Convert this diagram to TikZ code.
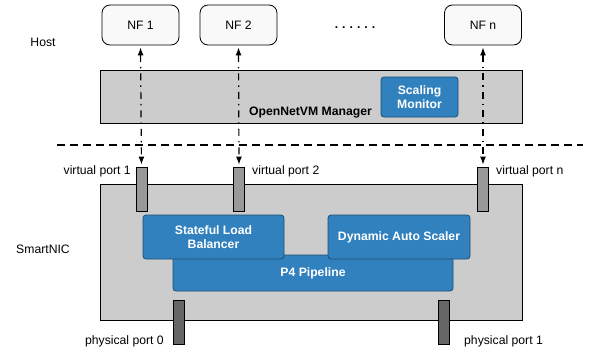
\documentclass[tikz,border=0pt]{standalone}
\usepackage{fontspec}
\setmainfont{Liberation Sans}
\usetikzlibrary{arrows.meta}
\definecolor{boxgray}{HTML}{CCCCCC}
\definecolor{nfblue}{HTML}{3181BE}
\definecolor{nfblueedge}{HTML}{1E4E72}
\definecolor{vport}{HTML}{999999}
\definecolor{pport}{HTML}{666666}
\definecolor{nffill}{HTML}{F9F9F9}
\tikzset{
  txt/.style={font=\fontsize{12.2}{14}\selectfont, inner sep=0pt},
  nfbox/.style={draw=black, fill=nffill, rounded corners=8pt, line width=0.8pt,
    minimum width=77pt, minimum height=40pt, txt},
  graybox/.style={draw=black, fill=boxgray, line width=0.8pt, inner sep=0pt},
  bluebox/.style={draw=nfblueedge, fill=nfblue, rounded corners=3pt, line width=0.8pt,
    text=white, font=\bfseries\fontsize{12.2}{14.5}\selectfont, align=center, inner sep=0pt},
  vportbox/.style={draw=black, fill=vport, line width=0.8pt, minimum width=11pt, minimum height=44pt, inner sep=0pt},
  pportbox/.style={draw=black, fill=pport, line width=0.8pt, minimum width=11pt, minimum height=44pt, inner sep=0pt},
  link/.style={line width=1.2pt, dash pattern=on 7pt off 5pt on 1.5pt off 5pt,
    {Latex[length=8pt,width=6pt]}-{Latex[length=8pt,width=6pt]}, shorten <=2pt, shorten >=2pt},
  sep/.style={line width=1.4pt, dash pattern=on 8pt off 5pt}
}
\begin{document}
\begin{tikzpicture}[x=1pt,y=-1pt]
\useasboundingbox (0,0) rectangle (589,356);
% host
\node[nfbox] (nf1) at (140.5,25) {NF 1};
\node[nfbox] (nf2) at (238.5,25) {NF 2};
\node[nfbox] (nfn) at (483,25) {NF n};
\node[txt, font=\bfseries\fontsize{12.2}{14}\selectfont] (dots) at (355,28) {.\kern4pt.\kern4pt.\kern4pt.\kern4pt.\kern4pt.};
\node[txt] (host) at (43,42) {Host};
% manager
\node[graybox, minimum width=422pt, minimum height=53pt] (mgr) at (311,96.5) {};
\node[txt, font=\bfseries\fontsize{12.2}{14}\selectfont] (mgrlbl) at (310.5,113) {OpenNetVM Manager};
\node[bluebox, minimum width=77pt, minimum height=40pt] (mon) at (419.5,97) {Scaling\\Monitor};
% separator
\coordinate (sepL) at (57,145);
\coordinate (sepR) at (583,145);
\draw[sep] (sepL) -- (sepR);
% smartnic
\node[graybox, minimum width=422pt, minimum height=136pt] (nic) at (311,252) {};
\node[txt] (niclbl) at (43,249) {SmartNIC};
\node[bluebox, minimum width=280pt, minimum height=36pt] (p4) at (313,273) {P4 Pipeline};
\node[bluebox, minimum width=141pt, minimum height=44pt] (slb) at (213.5,237) {Stateful Load\\Balancer};
\node[bluebox, minimum width=142pt, minimum height=44pt] (das) at (399,237) {Dynamic Auto Scaler};
% virtual ports
\node[vportbox] (vp1) at (141.5,189) {};
\node[vportbox] (vp2) at (239,189) {};
\node[vportbox] (vpn) at (483,189) {};
\node[txt, anchor=east] (vp1l) at (131,171) {virtual port 1};
\node[txt, anchor=west] (vp2l) at (252,171) {virtual port 2};
\node[txt, anchor=west] (vpnl) at (496,171) {virtual port n};
% physical ports
\node[pportbox] (pp0) at (178.5,322) {};
\node[pportbox] (pp1) at (443.5,322) {};
\node[txt, anchor=east] (pp0l) at (164,341) {physical port 0};
\node[txt, anchor=west] (pp1l) at (464,341) {physical port 1};
% links
\draw[link] (nf1.south) -- (vp1.north);
\draw[link] (nf2.south) -- (vp2.north);
\draw[link] (nfn.south) -- (vpn.north);
\end{tikzpicture}
\end{document}
